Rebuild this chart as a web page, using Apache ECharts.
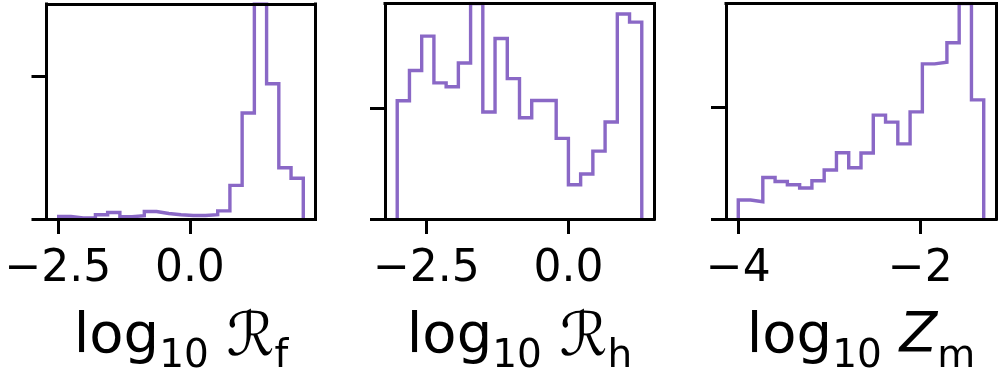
<!DOCTYPE html>
<html>
<head>
<meta charset="utf-8">
<script src="https://cdn.jsdelivr.net/npm/echarts@6/dist/echarts.min.js"></script>
<style>
html,body{margin:0;padding:0;background:#fff;}
#c{width:1000px;height:381px;}
</style>
</head>
<body>
<div id="c"></div>
<script>
// ---- data ----
// bin ranges (first and last bin edge) per panel, 20 equal bins each
const binRangeRf = [-2.484, 2.148];
const binRangeRh = [-3.012, 1.288];
const binRangeZm = [-4.0, -1.303];
// histogram heights (density-like units) per bin
const histRf = [0.018, 0.007, 0.010, 0.030, 0.046, 0.016, 0.023, 0.053, 0.039, 0.030,
                0.025, 0.025, 0.030, 0.057, 0.236, 0.744, 1.510, 0.950, 0.360, 0.286];
const histRh = [1.071, 1.346, 1.657, 1.234, 1.198, 1.414, 1.953, 0.970, 1.636, 1.272,
                0.917, 1.074, 1.074, 0.731, 0.311, 0.408, 0.615, 0.879, 1.858, 1.784];
const histZm = [0.170, 0.155, 0.371, 0.336, 0.307, 0.278, 0.342, 0.439, 0.594, 0.459,
                0.591, 0.930, 0.868, 0.673, 0.959, 1.389, 1.404, 1.579, 1.930, 1.067];
// tick values
const xTicksRf = [-2.5, 0.0];
const xTicksRh = [-2.5, 0.0];
const xTicksZm = [-4, -2];
const yTicks = [0, 1];
// axis titles (rich text)
const titleRf = ['log', '10', 'ℛ', 'f'];
const titleRh = ['log', '10', 'ℛ', 'h'];
const titleZm = ['log', '10', 'Z', 'm'];

// ---- build ----
const FONT = 'DejaVu Sans';
const COLOR = '#8a68c6';

function stepPath(range, h) {
  const n = h.length, w = (range[1] - range[0]) / n;
  const pts = [[range[0], 0]];
  for (let i = 0; i < n; i++) {
    const a = range[0] + i * w, b = range[0] + (i + 1) * w;
    pts.push([a, h[i]]);
    pts.push([b, h[i]]);
  }
  pts.push([range[1], 0]);
  return pts;
}
function fmt(dec) {
  return v => (v < 0 ? '\u2212' : '') + Math.abs(v).toFixed(dec);
}
const panels = [
  {range: binRangeRf, h: histRf, ticks: xTicksRf, dec: 1, title: titleRf, italic: false, csize: 60,
   grid: {left: 46.5, top: 4, width: 269, height: 221}},
  {range: binRangeRh, h: histRh, ticks: xTicksRh, dec: 1, title: titleRh, italic: false, csize: 60,
   grid: {left: 385, top: 3.5, width: 269, height: 221.5}},
  {range: binRangeZm, h: histZm, ticks: xTicksZm, dec: 0, title: titleZm, italic: true, csize: 55,
   grid: {left: 726, top: 3.5, width: 270, height: 221.5}}
];

const grids = [], xAxes = [], yAxes = [], series = [];
const spine = {show: true, onZero: false, lineStyle: {color: '#000', width: 3, cap: 'square'}};
panels.forEach((p, i) => {
  grids.push(Object.assign({containLabel: false}, p.grid));
  const span = p.range[1] - p.range[0];
  const xmin = p.range[0] - 0.05 * span, xmax = p.range[1] + 0.05 * span;
  const ymax = Math.max.apply(null, p.h);
  const t = p.title;
  xAxes.push({
    type: 'value', gridIndex: i, position: 'bottom', min: xmin, max: xmax, z: 5,
    axisLine: spine,
    axisTick: {show: true, length: 15, customValues: p.ticks, lineStyle: {color: '#000', width: 3}},
    axisLabel: {show: true, customValues: p.ticks, formatter: fmt(p.dec), margin: 29,
      fontFamily: FONT, fontSize: 44, color: '#000'},
    splitLine: {show: false},
    name: '{a|' + t[0] + '}{b|' + t[1] + '}{a| }{c|' + t[2] + '}{b|' + t[3] + '}',
    nameLocation: 'middle', nameGap: 90,
    nameTextStyle: {
      rich: {
        a: {fontFamily: FONT, fontSize: 56, lineHeight: 56, color: '#000', verticalAlign: 'top'},
        b: {fontFamily: FONT, fontSize: 39, lineHeight: 39, color: '#000', verticalAlign: 'top', padding: [28, 0, 0, 0]},
        c: {fontFamily: FONT, fontSize: p.csize, lineHeight: 56, color: '#000', verticalAlign: 'top',
            fontStyle: p.italic ? 'italic' : 'normal'}
      }
    }
  });
  xAxes.push({
    type: 'value', gridIndex: i, position: 'top', min: xmin, max: xmax, z: 5,
    axisLine: spine, axisTick: {show: false}, axisLabel: {show: false}, splitLine: {show: false}
  });
  yAxes.push({
    type: 'value', gridIndex: i, position: 'left', min: 0, max: ymax, z: 5,
    axisLine: spine,
    axisTick: {show: true, length: 15, customValues: yTicks, lineStyle: {color: '#000', width: 3}},
    axisLabel: {show: false}, splitLine: {show: false}
  });
  yAxes.push({
    type: 'value', gridIndex: i, position: 'right', min: 0, max: ymax, z: 5,
    axisLine: spine, axisTick: {show: false}, axisLabel: {show: false}, splitLine: {show: false}
  });
  series.push({
    type: 'line', xAxisIndex: 2 * i, yAxisIndex: 2 * i, data: stepPath(p.range, p.h),
    showSymbol: false, symbol: 'none', animation: false, clip: true, z: 2,
    lineStyle: {color: COLOR, width: 3.4, join: 'miter', cap: 'butt'}
  });
});

const chart = echarts.init(document.getElementById('c'), null, {renderer: 'canvas'});
chart.setOption({
  animation: false,
  backgroundColor: '#fff',
  grid: grids, xAxis: xAxes, yAxis: yAxes, series: series
});
</script>
</body>
</html>
